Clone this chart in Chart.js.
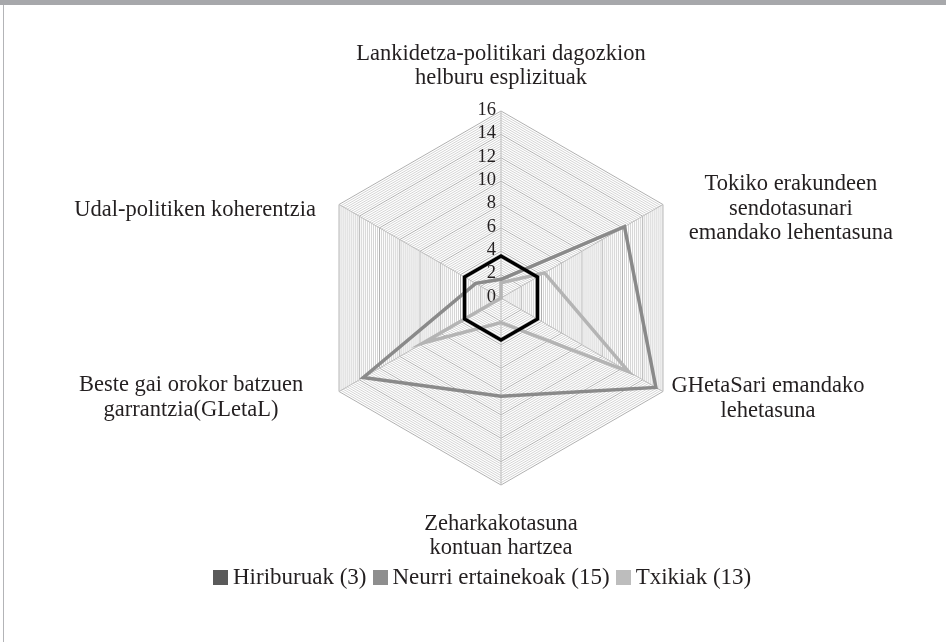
<!DOCTYPE html>
<html><head><meta charset="utf-8">
<script src="https://cdn.jsdelivr.net/npm/chart.js@4/dist/chart.umd.min.js"></script>
<style>
html,body{margin:0;padding:0;background:#fff;}
#wrap{position:relative;width:946px;height:642px;overflow:hidden;background:#fff;}
#topbar{position:absolute;left:0;top:0;width:946px;height:5px;background:#a7a8ab;}
#leftbar{position:absolute;left:3px;top:5px;width:1px;height:637px;background:#b3b4b7;}
#c{position:absolute;left:0;top:0;}
#legend{position:absolute;top:564px;left:213px;display:flex;align-items:center;font-family:"Liberation Serif",serif;font-size:23px;color:#231f20;white-space:nowrap;}
#legend .box{display:inline-block;width:15px;height:15px;margin-right:5px;}
#legend .item{display:inline-flex;align-items:center;margin-right:6px;}
</style></head>
<body><div id="wrap"><div id="topbar"></div><div id="leftbar"></div>
<canvas id="c" width="946" height="642"></canvas>
<div id="legend"></div></div>
<script>
const categories = [
  ["Lankidetza-politikari dagozkion", "helburu esplizituak"],
  ["Tokiko erakundeen", "sendotasunari", "emandako lehentasuna"],
  ["GHetaSari emandako", "lehetasuna"],
  ["Zeharkakotasuna", "kontuan hartzea"],
  ["Beste gai orokor batzuen", "garrantzia(GLetaL)"],
  ["Udal-politiken koherentzia"]
];
const seriesNames = ["Hiriburuak (3)", "Neurri ertainekoak (15)", "Txikiak (13)"];
const hiriburuak = [3.6, 3.6, 3.6, 3.6, 3.6, 3.6];
const neurriErtainekoak = [1.6, 12.2, 15.3, 8.4, 13.6, 2.5];
const txikiak = [1.3, 4.3, 12.6, 2.1, 7.7, 0];
const tickLabels = [0, 2, 4, 6, 8, 10, 12, 14, 16];

const TEXT = "#231f20";
const lineColors = ["#000000", "#8a8a8a", "#b4b4b4"];
const legendColors = ["#5a5a5a", "#8e8e8e", "#bdbdbd"];
// label offsets relative to each outer vertex [dx, dy of first line]
const LABEL_OFFSETS = [[0, -57], [128, -20], [105, -5], [0, 39], [-148, -6], [-144, 6]];
const LINE_H = 24.5;
const FONT = '"Liberation Serif", serif';

const leg = document.getElementById('legend');
seriesNames.forEach((n, i) => {
  const it = document.createElement('span'); it.className = 'item';
  const b = document.createElement('span'); b.className = 'box'; b.style.background = legendColors[i];
  const t = document.createElement('span'); t.textContent = n;
  it.appendChild(b); it.appendChild(t); leg.appendChild(it);
});

const textPlugin = {
  id: 'textPlugin',
  beforeDatasetsDraw(chart) {
    const s = chart.scales.r, ctx = chart.ctx;
    ctx.save();
    ctx.fillStyle = TEXT;
    ctx.font = '18.5px ' + FONT;
    ctx.textAlign = 'right';
    ctx.textBaseline = 'middle';
    tickLabels.forEach(v => {
      const d = s.getDistanceFromCenterForValue(v);
      ctx.fillText(String(v), s.xCenter - 5, s.yCenter - d - 1);
    });
    ctx.restore();
  },
  afterDraw(chart) {
    const s = chart.scales.r, ctx = chart.ctx;
    ctx.save();
    ctx.fillStyle = TEXT;
    ctx.font = '22.5px ' + FONT;
    ctx.textAlign = 'center';
    ctx.textBaseline = 'middle';
    categories.forEach((lines, i) => {
      const p = s.getPointPosition(i, s.drawingArea);
      const o = LABEL_OFFSETS[i];
      lines.forEach((ln, k) => ctx.fillText(ln, p.x + o[0], p.y + o[1] + k * LINE_H));
    });
    ctx.restore();
  }
};

const isMajor = v => Math.abs(v / 2 - Math.round(v / 2)) < 1e-6;

new Chart(document.getElementById('c'), {
  type: 'radar',
  data: {
    labels: categories,
    datasets: [hiriburuak, neurriErtainekoak, txikiak].map((d, i) => ({
      label: seriesNames[i],
      data: d,
      borderColor: lineColors[i],
      backgroundColor: legendColors[i],
      borderWidth: 3.5,
      borderJoinStyle: 'miter',
      fill: false,
      pointRadius: 0,
      pointHoverRadius: 0,
      tension: 0,
      order: i
    }))
  },
  options: {
    responsive: false,
    devicePixelRatio: 1,
    animation: false,
    events: [],
    layout: { padding: { left: 314, right: 257, top: 111, bottom: 156 } },
    plugins: { legend: { display: false }, tooltip: { enabled: false } },
    scales: {
      r: {
        min: 0, max: 16,
        beginAtZero: true,
        ticks: { display: false, stepSize: 0.2 },
        pointLabels: { display: false },
        angleLines: { color: '#bdbdbd', lineWidth: 1 },
        grid: {
          color: ctx => isMajor(ctx.tick.value) ? '#b0b0b0' : '#d4d4d4',
          lineWidth: 1
        }
      }
    }
  },
  plugins: [textPlugin]
});
</script></body></html>
